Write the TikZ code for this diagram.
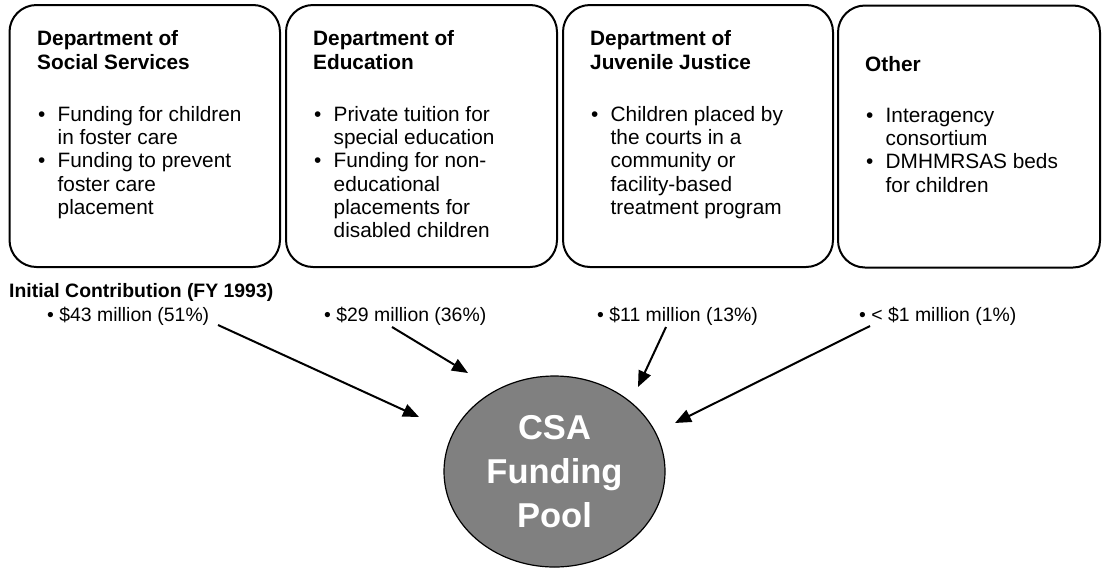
\documentclass[tikz,border=0pt]{standalone}
\usepackage{fontspec}
\setmainfont{Liberation Sans}
\usetikzlibrary{arrows.meta,shapes.geometric}
\newcommand\bul{\makebox[20.5pt][l]{\hspace{1pt}\textbullet}}
\newcommand\ind{\hspace*{20.5pt}}
\newcommand\firstln{\rule{0pt}{17pt}}
\begin{document}
\begin{tikzpicture}[x=1pt,y=-1pt,
  deptbox/.style={draw, line width=2pt, rounded corners=27pt, minimum height=262pt,
    inner sep=0pt, outer sep=0pt, anchor=north west},
  ttl/.style={anchor=north west, inner sep=0pt, align=left,
    font=\fontsize{20.8}{23.3}\selectfont\bfseries},
  body/.style={anchor=north west, inner sep=0pt, align=left,
    font=\fontsize{20.8}{23.3}\selectfont},
  lbl/.style={anchor=base west, inner sep=0pt, font=\fontsize{19.4}{23}\selectfont},
  pool/.style={ellipse, draw, line width=1.2pt, fill={rgb,255:red,128;green,128;blue,128},
    minimum width=221pt, minimum height=191pt, inner sep=0pt, align=center,
    text=white, font=\fontsize{34.5}{44}\selectfont\bfseries},
  arr/.style={line width=2pt, -{Triangle[length=16pt,width=13pt]}}
]
\useasboundingbox (0,0) rectangle (1102,571);

% boxes
\node[deptbox, minimum width=270.5pt] (b1) at (9.5,5) {};
\node[deptbox, minimum width=271pt] (b2) at (286,5) {};
\node[deptbox, minimum width=270pt] (b3) at (563,5) {};
\node[deptbox, minimum width=262pt] (b4) at (838,5.5) {};

% box texts
\node[ttl] (t1) at (37,28.5) {\firstln Department of\\Social Services};
\node[body] (d1) at (37,104) {\firstln\bul Funding for children\\\ind in foster care\\\bul Funding to prevent\\\ind foster care\\\ind placement};

\node[ttl] (t2) at (313,28.5) {\firstln Department of\\Education};
\node[body] (d2) at (313,104) {\firstln\bul Private tuition for\\\ind special education\\\bul Funding for non-\\\ind educational\\\ind placements for\\\ind disabled children};

\node[ttl] (t3) at (590,28.5) {\firstln Department of\\Juvenile Justice};
\node[body] (d3) at (590,104) {\firstln\bul Children placed by\\\ind the courts in a\\\ind community or\\\ind facility-based\\\ind treatment program};

\node[ttl] (t4) at (865,54) {\firstln Other};
\node[body] (d4) at (865,105) {\firstln\bul Interagency\\\ind consortium\\\bul DMHMRSAS beds\\\ind for children};

% contributions
\node[lbl, font=\fontsize{19.4}{23}\selectfont\bfseries] (ic) at (9,297) {Initial Contribution (FY 1993)};
\node[lbl] (c1) at (47,321) {\textbullet\ \$43 million (51\%)};
\node[lbl] (c2) at (324,321) {\textbullet\ \$29 million (36\%)};
\node[lbl] (c3) at (597,321) {\textbullet\ \$11 million (13\%)};
\node[lbl] (c4) at (859,321) {\textbullet\ < \$1 million (1\%)};

% pool
\node[pool] (pool) at (554.5,471.5) {CSA\\Funding\\Pool};

% arrows
\coordinate (s1) at (218,325);
\coordinate (e1) at (419,417);
\coordinate (s2) at (392,327);
\coordinate (e2) at (468,373);
\coordinate (s3) at (666,327);
\coordinate (e3) at (638,387);
\coordinate (s4) at (870,326);
\coordinate (e4) at (675,423);
\draw[arr] (s1) -- (e1);
\draw[arr] (s2) -- (e2);
\draw[arr] (s3) -- (e3);
\draw[arr] (s4) -- (e4);
\end{tikzpicture}
\end{document}
